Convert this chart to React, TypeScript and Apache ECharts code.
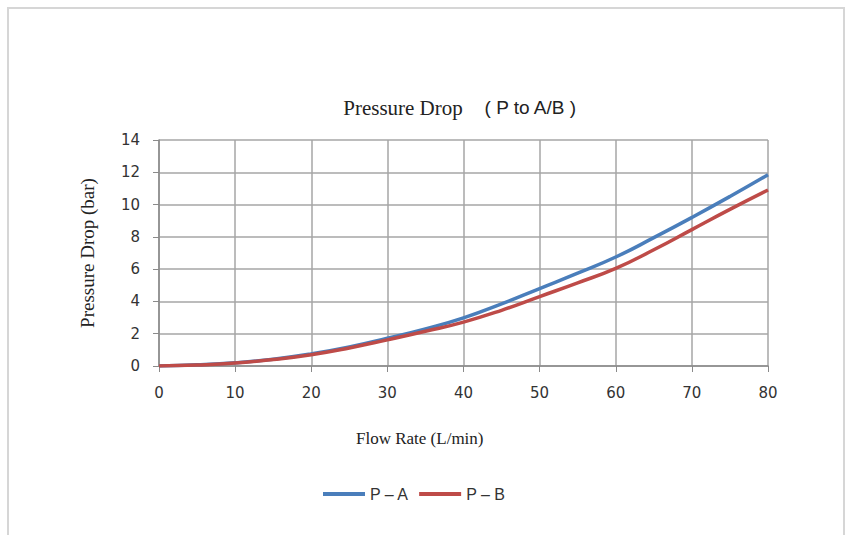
import React, { useEffect, useRef } from "react";
import * as echarts from "echarts";

const flowRates = [0, 5, 10, 15, 20, 25, 30, 35, 40, 45, 50, 55, 60, 65, 70, 75, 80];
const pA = [0, 0.07, 0.2, 0.42, 0.75, 1.18, 1.72, 2.3, 2.98, 3.85, 4.8, 5.75, 6.75, 7.95, 9.2, 10.5, 11.85];
const pB = [0, 0.06, 0.18, 0.4, 0.7, 1.12, 1.62, 2.15, 2.72, 3.45, 4.3, 5.15, 6.05, 7.2, 8.45, 9.7, 10.9];
const seriesNames = ["P – A", "P – B"];
const yTicks = { min: 0, max: 14, interval: 2 };
const xTicks = { min: 0, max: 80, interval: 10 };

export default function App() {
  const ref = useRef<HTMLDivElement>(null);
  useEffect(() => {
    document.body.style.margin = "0";
    const chart = echarts.init(ref.current!, null, { renderer: "svg" });
    const toPairs = (ys: number[]) => flowRates.map((x, i) => [x, ys[i]]);
    const tickFont = {
      color: "#333333",
      fontFamily: "DejaVu Sans",
      fontSize: 15,
    };
    chart.setOption({
      animation: false,
      backgroundColor: "#ffffff",
      title: {
        text: "{a|Pressure Drop}{b|    ( P to A/B )}",
        left: 455,
        textAlign: "center",
        top: 92,
        textStyle: {
          fontWeight: "normal",
          rich: {
            a: { fontFamily: "Liberation Serif", fontSize: 21, color: "#222", fontWeight: "normal" },
            b: { fontFamily: "Liberation Sans", fontSize: 19, color: "#222", fontWeight: "normal" },
          },
        },
      },
      legend: {
        left: 318,
        top: 481,
        itemWidth: 42,
        itemHeight: 4,
        itemGap: 10,
        icon: "rect",
        textStyle: { fontFamily: "Liberation Sans", fontSize: 16, color: "#333" },
        data: seriesNames,
      },
      grid: { left: 159, right: 78, top: 140, bottom: 169 },
      xAxis: {
        type: "value",
        min: xTicks.min,
        max: xTicks.max,
        interval: xTicks.interval,
        axisLine: { lineStyle: { color: "#8a8a8a", width: 1.5 } },
        axisTick: { show: true, length: 6, lineStyle: { color: "#8a8a8a" } },
        axisLabel: { ...tickFont, margin: 19 },
        splitLine: { show: true, lineStyle: { color: "#a6a6a6", width: 1.5 } },
      },
      yAxis: {
        type: "value",
        min: yTicks.min,
        max: yTicks.max,
        interval: yTicks.interval,
        name: "Pressure Drop (bar)",
        nameLocation: "middle",
        nameGap: 62,
        nameTextStyle: { fontFamily: "Liberation Serif", fontSize: 19, color: "#222" },
        axisLine: { show: true, lineStyle: { color: "#8a8a8a", width: 1.5 } },
        axisTick: { show: true, length: 6, lineStyle: { color: "#8a8a8a" } },
        axisLabel: { ...tickFont, margin: 19 },
        splitLine: { show: true, lineStyle: { color: "#a6a6a6", width: 1.5 } },
      },
      graphic: [
        {
          type: "rect",
          shape: { x: 8, y: 8, width: 836, height: 540 },
          style: { fill: "none", stroke: "#d6d6d6", lineWidth: 2 },
          silent: true,
        },
        {
          type: "text",
          left: 356,
          top: 430,
          style: {
            text: "Flow Rate (L/min)",
            font: "17px 'Liberation Serif'",
            fill: "#222",
          },
        },
      ],
      series: [
        {
          name: seriesNames[0],
          type: "line",
          smooth: true,
          showSymbol: false,
          data: toPairs(pA),
          lineStyle: { color: "#4a7ebb", width: 3.5 },
          itemStyle: { color: "#4a7ebb" },
        },
        {
          name: seriesNames[1],
          type: "line",
          smooth: true,
          showSymbol: false,
          data: toPairs(pB),
          lineStyle: { color: "#be4b48", width: 3.5 },
          itemStyle: { color: "#be4b48" },
        },
      ],
    });
    return () => chart.dispose();
  }, []);
  return <div ref={ref} style={{ width: 846, height: 535 }} />;
}
